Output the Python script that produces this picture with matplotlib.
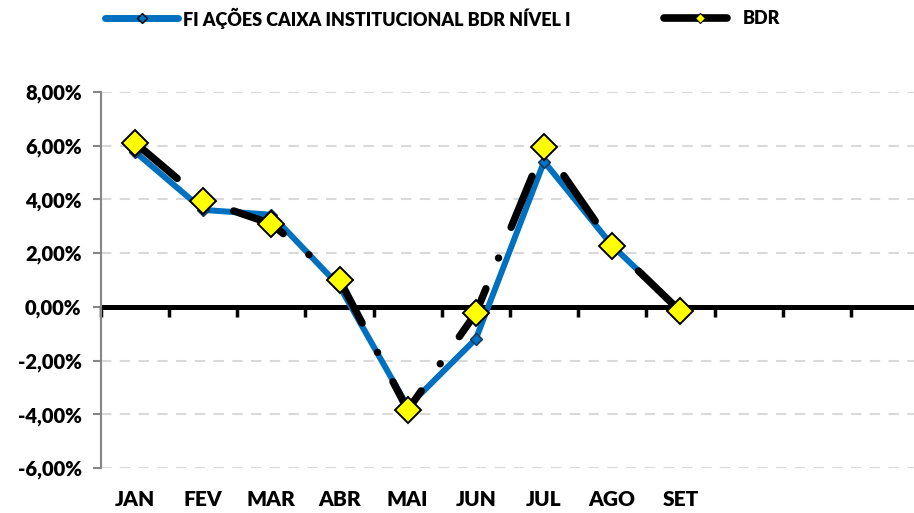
import matplotlib
matplotlib.use("Agg")
import matplotlib.pyplot as plt
from matplotlib.lines import Line2D
from matplotlib.ticker import FuncFormatter

plt.rcParams['font.family'] = ['Lato', 'DejaVu Sans']

months = ["JAN", "FEV", "MAR", "ABR", "MAI", "JUN", "JUL", "AGO", "SET", "", "", ""]
fund_name = "FI AÇÕES CAIXA INSTITUCIONAL BDR NÍVEL I"
bench_name = "BDR"
fund = [5.77, 3.61, 3.43, 0.76, -3.72, -1.19, 5.41, 2.28, -0.15]
bench = [6.11, 3.96, 3.09, 1.00, -3.84, -0.23, 5.95, 2.28, -0.17]
yticks = [-6, -4, -2, 0, 2, 4, 6, 8]

W, H = 914, 513
fig = plt.figure(figsize=(W / 100, H / 100), dpi=100)
ax = fig.add_axes([101 / W, (H - 468) / H, (919 - 101) / W, (468 - 92) / H])

x = list(range(len(fund)))
blue = "#0070C0"
ax.plot(x, fund, color=blue, lw=4.3, solid_joinstyle='round', solid_capstyle='round',
        marker='D', ms=6.5, mfc=blue, mec='#1F3050', mew=1.0, zorder=3)
ax.plot(range(len(bench)), bench, color='black', lw=5.3,
        ls=(0, (7.5, 4.5, 0.01, 4.5)), dash_capstyle='round',
        marker='D', ms=13, mfc='#FFFF00', mec='black', mew=1.4, zorder=4)

ax.set_xlim(-0.5, len(months) - 0.5)
ax.set_ylim(-6, 8)
ax.set_yticks(yticks)
ax.yaxis.set_major_formatter(FuncFormatter(lambda v, p: f"{v:.2f}%".replace('.', ',')))
ax.grid(axis='y', color='#D9D9D9', lw=1.5, ls=(0, (5, 4)))
ax.set_axisbelow(True)
ax.axhline(0, color='black', lw=3.6, zorder=2.5)

for s in ['top', 'right', 'bottom']:
    ax.spines[s].set_visible(False)
ax.spines['left'].set_color('#868686')
ax.spines['left'].set_linewidth(1.5)
ax.tick_params(axis='y', colors='#868686', length=6, width=1.5, labelcolor='black',
               labelsize=14.5, pad=8)
for lab in ax.get_yticklabels():
    lab.set_fontweight('heavy')

ax.set_xticks(range(len(months)))
ax.set_xticklabels(months, fontweight='heavy', fontsize=15)
ax.tick_params(axis='x', length=0, pad=16)

zero_frac = (0 - (-6)) / (8 - (-6))
sec = ax.secondary_xaxis(zero_frac)
sec.set_xticks([i - 0.5 for i in range(len(months) + 1)])
sec.set_xticklabels([])
sec.tick_params(axis='x', direction='out', length=7, width=2.5, color='black')
sec.spines['bottom'].set_visible(False)

# legend
ly = (H - 18) / H
fig.add_artist(Line2D([105 / W, 178 / W], [ly, ly], transform=fig.transFigure,
                      color=blue, lw=5, solid_capstyle='round'))
fig.add_artist(Line2D([141.5 / W], [ly], transform=fig.transFigure, marker='D', ms=5.5,
                      mfc=blue, mec='black', mew=1.0, lw=0))
fig.text(183 / W, ly, fund_name, fontsize=13, fontweight='heavy', va='center', ha='left')
fig.add_artist(Line2D([664 / W, 727 / W], [ly, ly], transform=fig.transFigure,
                      color='black', lw=5.5, solid_capstyle='round'))
fig.add_artist(Line2D([700 / W], [ly], transform=fig.transFigure, marker='D', ms=5.5,
                      mfc='#FFFF00', mec='black', mew=0.8, lw=0))
fig.text(743 / W, ly, bench_name, fontsize=13, fontweight='heavy', va='center', ha='left')

fig.savefig("out.png", dpi=100)
